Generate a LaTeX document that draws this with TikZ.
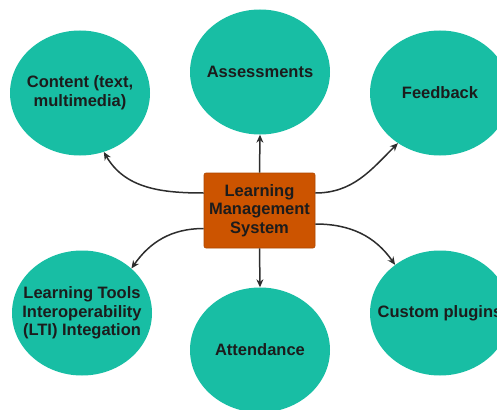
\documentclass[tikz,border=0pt]{standalone}
\usepackage{fontspec}
\setmainfont{Liberation Sans}
\usetikzlibrary{shapes.geometric,arrows.meta}
\definecolor{teal1}{RGB}{24,190,164}
\definecolor{lmsorange}{RGB}{204,84,0}
\definecolor{txt}{RGB}{28,28,28}
\definecolor{arr}{RGB}{45,45,45}
\tikzset{
  topic/.style={ellipse, fill=teal1, minimum width=140pt, minimum height=125pt, inner sep=0pt,
    label={[topictext]center:#1}},
  topictext/.style={align=center, text=txt, inner sep=0pt, font=\fontsize{16.5}{18.7}\selectfont\bfseries},
  hub/.style={rectangle, rounded corners=2pt, fill=lmsorange, draw=lmsorange!85!black, line width=0.6pt,
    minimum width=111pt, minimum height=75pt, align=center, text=txt,
    font=\fontsize{16.5}{18.7}\selectfont\bfseries},
  link/.style={draw=arr, line width=1.5pt, -{Stealth[length=8pt,width=7pt]}}
}
\begin{document}
\begin{tikzpicture}[x=1pt,y=-1pt]
\useasboundingbox (0,0) rectangle (497,409);
\begin{scope}
\clip (0,0) rectangle (497,409);
\node[topic={Content (text,\\multimedia)}] (content) at (80,93) {};
\node[topic={Assessments}] (assess) at (260,72) {};
\node[topic={Feedback}] (feed) at (440,93) {};
\node[topic={Learning Tools\\Interoperability\\(LTI) Integation}] (lti) at (82,313) {};
\node[topic={Attendance}] (att) at (260,350) {};
\node[topic={Custom plugins}] (cust) at (440,313) {};
\node[hub] (lms) at (259.5,210.5) {Learning\\Management\\System};
\end{scope}
\draw[link] ([yshift=17.5pt]lms.west) to[out=180,in=-60] (content.-68);
\draw[link] (lms.north) -- (assess.south);
\draw[link] ([yshift=17.5pt]lms.east) to[out=0,in=-135] (feed.-130);
\draw[link] ([yshift=-18pt]lms.west) to[out=180,in=55] (lti.42);
\draw[link] (lms.south) -- (att.north);
\draw[link] ([yshift=-13.5pt]lms.east) to[out=0,in=125] (cust.133);
\end{tikzpicture}
\end{document}
